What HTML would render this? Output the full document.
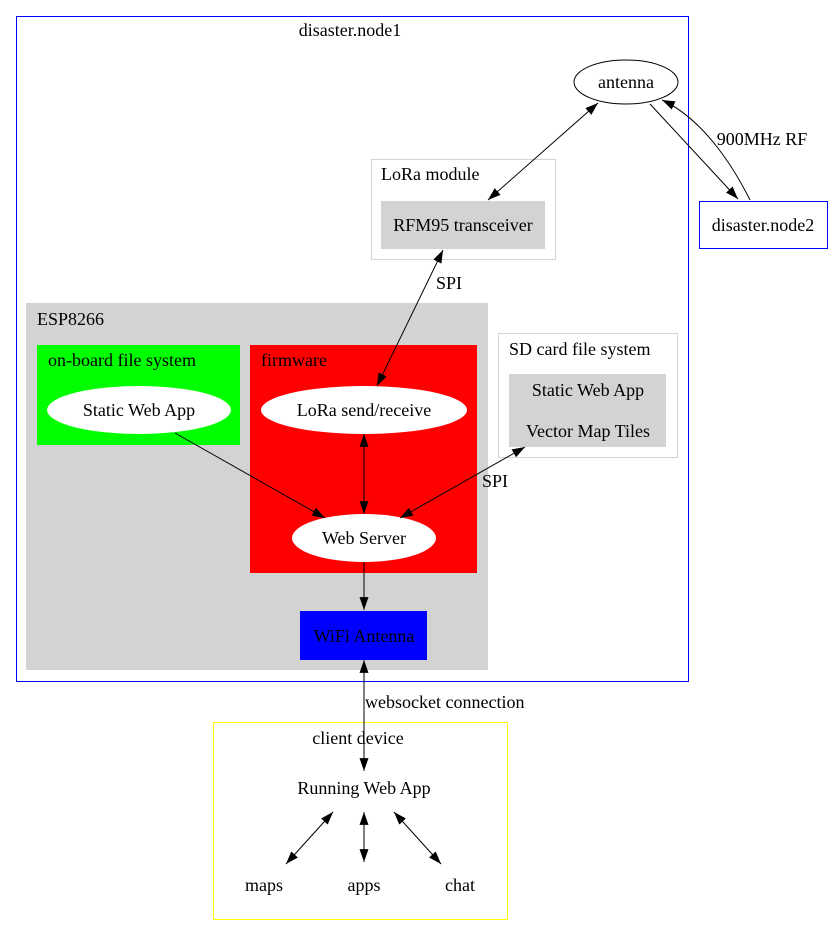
<!DOCTYPE html>
<html><head><meta charset="utf-8"><style>
html,body{margin:0;padding:0;background:#fff;}
svg{display:block;}
text{font-family:"Liberation Serif",serif;font-size:18px;fill:#000;}
</style></head><body>
<svg width="831" height="936" viewBox="0 0 831 936" xmlns="http://www.w3.org/2000/svg">
<defs>
<marker id="a" viewBox="0 0 10 7" refX="10" refY="3.5" markerWidth="13" markerHeight="9" markerUnits="userSpaceOnUse" orient="auto"><path d="M0,0 L10,3.5 L0,7 Z" fill="#000"/></marker>
<marker id="s" viewBox="0 0 10 7" refX="0" refY="3.5" markerWidth="13" markerHeight="9" markerUnits="userSpaceOnUse" orient="auto"><path d="M10,0 L0,3.5 L10,7 Z" fill="#000"/></marker>
</defs>
<rect x="16.5" y="16.5" width="672" height="665" fill="#fff" stroke="#00f"/>
<text x="350" y="36" text-anchor="middle">disaster.node1</text>
<rect x="371.5" y="159.5" width="184" height="100" fill="#fff" stroke="#d3d3d3"/>
<text x="381" y="180">LoRa module</text>
<rect x="381" y="201" width="164" height="48" fill="#d3d3d3"/>
<text x="463" y="231" text-anchor="middle">RFM95 transceiver</text>
<rect x="26" y="303" width="462" height="367" fill="#d3d3d3"/>
<text x="37" y="325">ESP8266</text>
<rect x="37" y="345" width="203" height="100" fill="#0f0"/>
<text x="48" y="366">on-board file system</text>
<ellipse cx="139" cy="410" rx="92" ry="24" fill="#fff"/>
<text x="139" y="416" text-anchor="middle">Static Web App</text>
<rect x="250" y="345" width="227" height="228" fill="#f00"/>
<text x="261" y="366">firmware</text>
<ellipse cx="364" cy="410" rx="103" ry="24" fill="#fff"/>
<text x="364" y="416" text-anchor="middle">LoRa send/receive</text>
<ellipse cx="364" cy="538" rx="72" ry="24" fill="#fff"/>
<text x="364" y="544" text-anchor="middle">Web Server</text>
<rect x="300" y="611" width="127" height="49" fill="#00f"/>
<text x="364" y="642" text-anchor="middle">WiFi Antenna</text>
<rect x="498.5" y="333.5" width="179" height="124" fill="#fff" stroke="#d3d3d3"/>
<text x="509" y="355">SD card file system</text>
<rect x="509" y="374" width="157" height="73" fill="#d3d3d3"/>
<text x="588" y="396" text-anchor="middle">Static Web App</text>
<text x="588" y="437" text-anchor="middle">Vector Map Tiles</text>
<ellipse cx="626" cy="82" rx="52" ry="22" fill="#fff" stroke="#000"/>
<text x="626" y="88" text-anchor="middle">antenna</text>
<rect x="699.5" y="201.5" width="128" height="47" fill="#fff" stroke="#00f"/>
<text x="763" y="231" text-anchor="middle">disaster.node2</text>
<rect x="213.5" y="722.5" width="294" height="197" fill="#fff" stroke="#ff0"/>
<text x="358" y="744" text-anchor="middle">client device</text>
<text x="364" y="794" text-anchor="middle">Running Web App</text>
<text x="264" y="891" text-anchor="middle">maps</text>
<text x="364" y="891" text-anchor="middle">apps</text>
<text x="460" y="891" text-anchor="middle">chat</text>
<g stroke="#000" fill="none">
<path d="M650,104 L738,199" marker-end="url(#a)"/>
<path d="M750,200 C735,170 705,120 662,100" marker-end="url(#a)"/>
<path d="M598,103 L488,200" marker-start="url(#s)" marker-end="url(#a)"/>
<path d="M443,250 L377,386" marker-start="url(#s)" marker-end="url(#a)"/>
<path d="M175,433 L325,518" marker-end="url(#a)"/>
<path d="M364,434 L364,514" marker-start="url(#s)" marker-end="url(#a)"/>
<path d="M525,447 L400,518" marker-start="url(#s)" marker-end="url(#a)"/>
<path d="M364,562 L364,610" marker-end="url(#a)"/>
<path d="M364,660 L364,771" marker-start="url(#s)" marker-end="url(#a)"/>
<path d="M333,812 L286,864" marker-start="url(#s)" marker-end="url(#a)"/>
<path d="M364,812 L364,862" marker-start="url(#s)" marker-end="url(#a)"/>
<path d="M394,812 L441,864" marker-start="url(#s)" marker-end="url(#a)"/>
</g>
<text x="762" y="145" text-anchor="middle">900MHz RF</text>
<text x="449" y="289" text-anchor="middle">SPI</text>
<text x="495" y="487" text-anchor="middle">SPI</text>
<text x="365" y="708">websocket connection</text>
</svg>
</body></html>
